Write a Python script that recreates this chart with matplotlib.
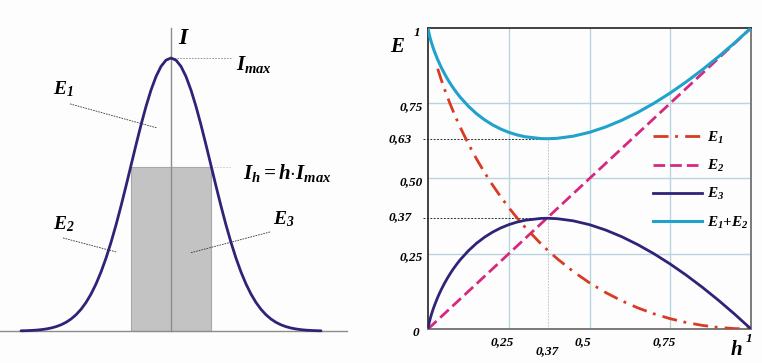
import matplotlib
matplotlib.use("Agg")
import matplotlib.pyplot as plt
from matplotlib.patches import Rectangle

plt.rcParams['mathtext.fontset'] = 'custom'
plt.rcParams['mathtext.rm'] = 'Liberation Serif:italic:bold'
plt.rcParams['mathtext.it'] = 'Liberation Serif:italic:bold'
plt.rcParams['mathtext.bf'] = 'Liberation Serif:italic:bold'
plt.rcParams['font.family'] = ['Liberation Serif', 'DejaVu Serif']

# ---------------- data ----------------
# left panel: intensity profile, I / Imax on one half (x in units of sigma, step 0.125)
gauss_half = [1.0, 0.99222, 0.96923, 0.93210, 0.88250, 0.82258, 0.75484, 0.68194,
              0.60653, 0.53109, 0.45783, 0.38856, 0.32465, 0.26705, 0.21627, 0.17242,
              0.13534, 0.10458, 0.07956, 0.05959, 0.04394, 0.03190, 0.02282, 0.01604,
              0.01111, 0.00757, 0.00508, 0.00336, 0.00219, 0.00140, 0.00088]
gauss_step = 0.125
gauss_y = gauss_half[::-1] + gauss_half[1:]
gauss_x = [(i - (len(gauss_half) - 1)) * gauss_step for i in range(len(gauss_y))]
h_level = 0.6
rect_halfwidth = 1.01

# right panel: E versus h
h_vals = [0.0, 0.0015, 0.003, 0.005, 0.0075, 0.01, 0.0125, 0.015, 0.02, 0.03, 0.04, 0.05,
          0.06, 0.07, 0.08, 0.09, 0.1, 0.125, 0.15, 0.175, 0.2, 0.225, 0.25, 0.275, 0.3,
          0.35, 0.37, 0.4, 0.45, 0.5, 0.55, 0.6, 0.65, 0.7, 0.75, 0.8, 0.85, 0.9, 0.95, 1.0]
E1_vals = [1.0, 0.9887, 0.9796, 0.9685, 0.9558, 0.9439, 0.9327, 0.9220, 0.9018, 0.8648,
           0.8312, 0.8002, 0.7712, 0.7438, 0.7179, 0.6933, 0.6697, 0.6151, 0.5654, 0.5200,
           0.4781, 0.4394, 0.4034, 0.3700, 0.3388, 0.2826, 0.2621, 0.2335, 0.1907, 0.1534,
           0.1212, 0.0935, 0.0700, 0.0503, 0.0342, 0.0215, 0.0119, 0.0052, 0.0013, 0.0]
E2_vals = [0.0, 0.0015, 0.003, 0.005, 0.0075, 0.01, 0.0125, 0.015, 0.02, 0.03, 0.04, 0.05,
           0.06, 0.07, 0.08, 0.09, 0.1, 0.125, 0.15, 0.175, 0.2, 0.225, 0.25, 0.275, 0.3,
           0.35, 0.37, 0.4, 0.45, 0.5, 0.55, 0.6, 0.65, 0.7, 0.75, 0.8, 0.85, 0.9, 0.95, 1.0]
E3_vals = [0.0, 0.0098, 0.0174, 0.0265, 0.0367, 0.0461, 0.0548, 0.0630, 0.0782, 0.1052,
           0.1288, 0.1498, 0.1688, 0.1862, 0.2021, 0.2167, 0.2303, 0.2599, 0.2846, 0.3050,
           0.3219, 0.3356, 0.3466, 0.3550, 0.3612, 0.3674, 0.3679, 0.3665, 0.3593, 0.3466,
           0.3288, 0.3065, 0.2800, 0.2497, 0.2158, 0.1785, 0.1381, 0.0948, 0.0487, 0.0]
E12_vals = [1.0, 0.9902, 0.9826, 0.9735, 0.9633, 0.9539, 0.9452, 0.9370, 0.9218, 0.8948,
            0.8712, 0.8502, 0.8312, 0.8138, 0.7979, 0.7833, 0.7697, 0.7401, 0.7154, 0.6950,
            0.6781, 0.6644, 0.6534, 0.6450, 0.6388, 0.6326, 0.6321, 0.6335, 0.6407, 0.6534,
            0.6712, 0.6935, 0.7200, 0.7503, 0.7842, 0.8215, 0.8619, 0.9052, 0.9513, 1.0]
E1_start = 9  # dash-dot curve drawn from h = 0.03

grid_vals = [0.25, 0.5, 0.75]
ytick_vals = [0.0, 0.25, 0.37, 0.5, 0.63, 0.75, 1.0]
ytick_labels = ['0', '0,25', '0,37', '0,50', '0,63', '0,75', '1']
xtick_vals = [0.25, 0.37, 0.5, 0.75]
xtick_labels = ['0,25', '0,37', '0,5', '0,75']
h_peak = 0.37
E3_peak = 0.37
E12_min = 0.63

# ---------------- figure ----------------
fig = plt.figure(figsize=(7.62, 3.63), dpi=100, facecolor='#fdfdfd')

navy = '#2f2378'

# ---- left panel ----
axl = fig.add_axes([0, 0, 380 / 762, 1])
axl.set_xlim(-4.275, 5.225)
axl.set_ylim(-0.117, 1.2125)
axl.axis('off')
axl.add_patch(Rectangle((-rect_halfwidth, 0), 2 * rect_halfwidth, h_level,
                        facecolor='#c3c3c3', edgecolor='#a8a8a8', lw=0.8, zorder=1))
axl.plot([-4.275, 4.4], [0, 0], color='#8c8c8c', lw=1.0, zorder=2)
axl.plot([0, 0], [0, 1.11], color='#8c8c8c', lw=1.0, zorder=2)
axl.plot(gauss_x, gauss_y, color=navy, lw=2.0, zorder=3, solid_capstyle='round',
         solid_joinstyle='round')
axl.plot([0, 1.5], [1.0, 1.0], color='#8a8a8a', lw=0.6, ls=(0, (2, 1.5)), zorder=2)
axl.plot([rect_halfwidth, 1.5], [h_level, h_level], color='#c8c8c8', lw=0.6,
         ls=(0, (2, 1.5)), zorder=2)
axl.text(0.18, 1.07, '$I$', fontsize=17, ha='left', va='center')
axl.text(1.62, 0.975, '$I_{max}$', fontsize=15, ha='left', va='center')
axl.text(1.8, 0.58, '$I_h = h{\\cdot}I_{max}$', fontsize=15, ha='left', va='center')
axl.text(-2.95, 0.885, '$E_1$', fontsize=14, ha='left', va='center')
axl.text(-2.95, 0.39, '$E_2$', fontsize=14, ha='left', va='center')
axl.text(2.55, 0.41, '$E_3$', fontsize=14, ha='left', va='center')
for (x0, y0, x1, y1) in [(-2.525, 0.832, -0.35, 0.744),
                         (-2.7, 0.341, -1.35, 0.289),
                         (2.475, 0.363, 0.475, 0.286)]:
    axl.plot([x0, x1], [y0, y1], color='#333333', lw=0.6, ls=(0, (2, 1.2)), zorder=4)

# ---- right panel ----
ax = fig.add_axes([428 / 762, 34 / 363, 323 / 762, 301 / 363])
ax.set_xlim(0, 1)
ax.set_ylim(0, 1)
ax.set_facecolor('none')
ax.set_xticks([])
ax.set_yticks([])
gcol = '#b9d6de'
for g in grid_vals:
    ax.axhline(g, color=gcol, lw=1.0, zorder=1)
    ax.axvline(g, color=gcol, lw=1.0, zorder=1)
for s in ['left', 'top']:
    ax.spines[s].set_color('#222222')
    ax.spines[s].set_linewidth(1.2)
for s in ['right', 'bottom']:
    ax.spines[s].set_color('#7a7a7a')
    ax.spines[s].set_linewidth(1.4)

# guide lines
ax.plot([-0.015, h_peak], [E12_min, E12_min], color='#333333', lw=0.7,
        ls=(0, (2, 1.5)), clip_on=False, zorder=2)
ax.plot([-0.015, h_peak], [E3_peak, E3_peak], color='#333333', lw=0.7,
        ls=(0, (2, 1.5)), clip_on=False, zorder=2)
ax.plot([h_peak, h_peak], [0, E12_min], color='#bbbbbb', lw=0.6,
        ls=(0, (2, 1.5)), zorder=2)

l2, = ax.plot(h_vals, E2_vals, color='#d6287f', lw=2.0, dashes=(4.2, 1.8), zorder=3,
              label='$E_2$')
l1, = ax.plot(h_vals[E1_start:], E1_vals[E1_start:], color='#d83a22', lw=2.0,
              dashes=(5.4, 2.4, 1.0, 2.6), zorder=3, label='$E_1$')
l3, = ax.plot(h_vals, E3_vals, color=navy, lw=2.0, zorder=4, label='$E_3$')
l4, = ax.plot(h_vals, E12_vals, color='#1fa2cb', lw=2.2, zorder=5, label='$E_1{+}E_2$')

leg = ax.legend(handles=[l1, l2, l3, l4], loc='upper left', bbox_to_anchor=(0.697, 0.662),
                frameon=False, fontsize=11, handlelength=3.2, handletextpad=0.35,
                labelspacing=0.8, borderpad=0, borderaxespad=0)

# tick labels
tick_kw = dict(fontsize=9.5, fontweight='bold', fontstyle='italic', clip_on=False)
for v, lab in zip(ytick_vals, ytick_labels):
    if v in (E12_min, E3_peak):
        ax.text(-0.05, v, lab, ha='right', va='center', **tick_kw)
    elif v == 1.0:
        ax.text(-0.035, 0.985, lab, ha='center', va='center', **tick_kw)
    elif v == 0.0:
        ax.text(-0.037, -0.012, lab, ha='center', va='center', **tick_kw)
    else:
        ax.text(-0.015, v - 0.012, lab, ha='right', va='center', **tick_kw)
for v, lab in zip(xtick_vals, xtick_labels):
    if v == h_peak:
        ax.text(v, -0.072, lab, ha='center', va='center', **tick_kw)
    else:
        ax.text(v - 0.02, -0.045, lab, ha='center', va='center', **tick_kw)
ax.text(0.994, -0.032, '1', ha='center', va='center', **tick_kw)
ax.text(0.955, -0.072, '$h$', fontsize=15, ha='center', va='center', clip_on=False)
ax.text(-0.095, 0.935, '$E$', fontsize=15, ha='center', va='center', clip_on=False)

fig.savefig('out.png', dpi=100, facecolor=fig.get_facecolor())
